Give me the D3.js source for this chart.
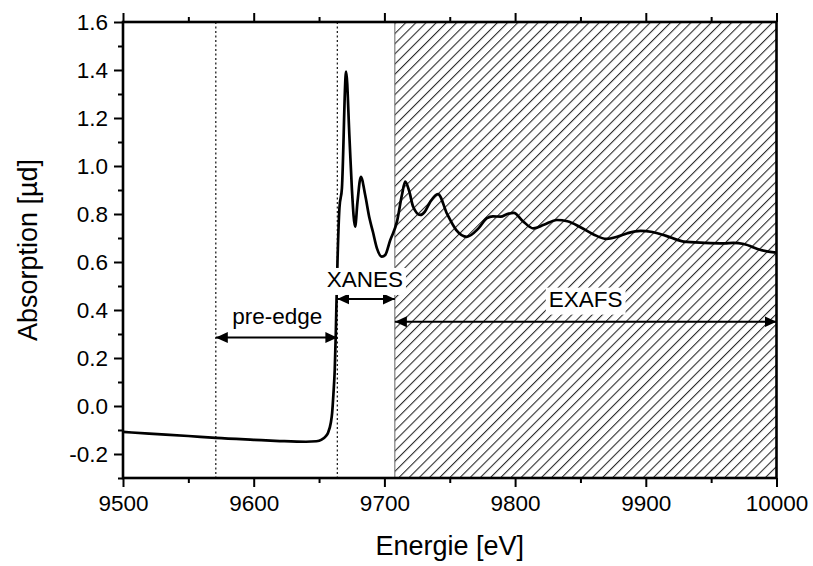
<!DOCTYPE html>
<html>
<head>
<meta charset="utf-8">
<script src="https://cdn.jsdelivr.net/npm/d3@7"></script>
<style>
  html, body { margin: 0; padding: 0; background: #fff; }
  svg { display: block; font-family: "Liberation Sans", Arial, sans-serif; }
</style>
</head>
<body>
<svg id="chart" width="813" height="566"></svg>
<script>
// ---- data ----
const energy = [9500, 9520, 9550, 9571, 9600, 9620, 9640, 9648, 9652, 9655, 9657, 9659, 9660, 9661, 9662, 9662.8, 9663.5, 9664.1,
  9665.6, 9667.5, 9670.7, 9673.3, 9675.1, 9677.6, 9679.4, 9682, 9685.3, 9688.6, 9691.2, 9694.3, 9698.1, 9700.6, 9704.4,
  9709.6, 9713.4, 9715.9, 9719, 9722, 9727.4, 9731, 9735, 9741, 9748, 9755, 9763, 9772, 9778.5, 9783, 9789, 9794, 9799,
  9806, 9814, 9822, 9832, 9840, 9850, 9860, 9870, 9878, 9886, 9896, 9905, 9915, 9929, 9945, 9960, 9967, 9975, 9988, 10000];
const absorption = [-0.108, -0.115, -0.125, -0.133, -0.141, -0.146, -0.149, -0.147, -0.14, -0.127, -0.11, -0.07, -0.03, 0.05, 0.15, 0.3, 0.47, 0.6,
  0.825, 0.908, 1.393, 1.115, 0.907, 0.747, 0.85, 0.955, 0.879, 0.782, 0.726, 0.657, 0.622, 0.629, 0.69,
  0.768, 0.879, 0.935, 0.895, 0.83, 0.796, 0.81, 0.85, 0.883, 0.80, 0.733, 0.705, 0.74, 0.783, 0.79, 0.789, 0.80, 0.805,
  0.77, 0.74, 0.755, 0.775, 0.77, 0.745, 0.715, 0.696, 0.705, 0.72, 0.73, 0.725, 0.71, 0.685, 0.68, 0.678, 0.68, 0.675, 0.65, 0.639];

const xMajorTicks = [9500, 9600, 9700, 9800, 9900, 10000];
const xMinorTicks = [9550, 9650, 9750, 9850, 9950];
const yMajorTicks = [-0.2, 0.0, 0.2, 0.4, 0.6, 0.8, 1.0, 1.2, 1.4, 1.6];
const yMinorTicks = [-0.3, -0.1, 0.1, 0.3, 0.5, 0.7, 0.9, 1.1, 1.3, 1.5];

const dottedLines = [9571, 9664];
const exafsStart = 9708;
const regionNames = ["pre-edge", "XANES", "EXAFS"];
const regionFrom = [9571, 9664, 9708];
const regionTo = [9664, 9708, 10000];
const regionArrowY = [0.285, 0.446, 0.351];
const regionLabelX = [9618, 9685, 9854];
const regionLabelY = [0.342, 0.496, 0.414];
const regionLabelBox = [false, true, true];

const xTitle = "Energie [eV]";
const yTitle = "Absorption [µd]";

// ---- layout ----
const svg = d3.select("#chart");
const L = 123, R = 776.5, T = 22, B = 478;
const x = d3.scaleLinear().domain([9500, 10000]).range([L, R]);
const y = d3.scaleLinear().domain([-0.3, 1.6]).range([B, T]);

const defs = svg.append("defs");
const hs = 7.2;
const pat = defs.append("pattern")
  .attr("id", "hatch").attr("patternUnits", "userSpaceOnUse")
  .attr("width", hs).attr("height", hs)
  .attr("patternTransform", "rotate(45)");
pat.append("line").attr("x1", 0.6).attr("y1", 0).attr("x2", 0.6).attr("y2", hs)
  .attr("stroke", "#000").attr("stroke-width", 0.9);

defs.append("marker").attr("id", "arrow")
  .attr("markerUnits", "userSpaceOnUse")
  .attr("viewBox", "0 0 12 12").attr("refX", 12).attr("refY", 6)
  .attr("markerWidth", 12).attr("markerHeight", 12)
  .attr("orient", "auto-start-reverse")
  .append("path").attr("d", "M0,0.5 L12,6 L0,11.5 Z").attr("fill", "#000");

// hatched EXAFS region
svg.append("rect")
  .attr("x", x(exafsStart)).attr("y", T)
  .attr("width", R - x(exafsStart)).attr("height", B - T)
  .attr("fill", "url(#hatch)");
svg.append("line")
  .attr("x1", x(exafsStart)).attr("x2", x(exafsStart)).attr("y1", T).attr("y2", B)
  .attr("stroke", "#666").attr("stroke-width", 1);

// dotted lines
svg.selectAll(".dotl").data(dottedLines).join("line")
  .attr("x1", d => x(d)).attr("x2", d => x(d)).attr("y1", T).attr("y2", B)
  .attr("stroke", "#222").attr("stroke-width", 1.3).attr("stroke-dasharray", "2,2.5");

// spectrum
const pts = energy.map((e, i) => [e, absorption[i]]);
svg.append("path").datum(pts)
  .attr("d", d3.line().x(d => x(d[0])).y(d => y(d[1])).curve(d3.curveMonotoneX))
  .attr("fill", "none").attr("stroke", "#000").attr("stroke-width", 2.7).attr("stroke-linejoin", "round");

// arrows
regionNames.forEach((name, i) => {
  svg.append("line")
    .attr("x1", x(regionFrom[i])).attr("x2", x(regionTo[i]))
    .attr("y1", y(regionArrowY[i])).attr("y2", y(regionArrowY[i]))
    .attr("stroke", "#000").attr("stroke-width", 2)
    .attr("marker-start", "url(#arrow)").attr("marker-end", "url(#arrow)");
});

// labels
regionNames.forEach((name, i) => {
  const t = svg.append("text")
    .attr("x", x(regionLabelX[i])).attr("y", y(regionLabelY[i]))
    .attr("text-anchor", "middle").attr("font-size", 22.5).attr("fill", "#000")
    .text(name);
  if (regionLabelBox[i]) {
    const bb = t.node().getBBox();
    svg.insert("rect", () => t.node())
      .attr("x", bb.x - 3).attr("y", bb.y + 1)
      .attr("width", bb.width + 6).attr("height", bb.height + 2)
      .attr("fill", "#fff");
  }
});

// axes
const fs = 22.5;
function styleAxis(g) {
  g.select(".domain").remove();
  g.selectAll(".tick line").attr("stroke", "#000").attr("stroke-width", 2);
  g.selectAll(".tick text").attr("font-size", fs).attr("fill", "#000")
    .attr("font-family", "\"Liberation Sans\", Arial, sans-serif");
}
svg.append("g").attr("transform", `translate(0,${B})`)
  .call(d3.axisBottom(x).tickValues(xMajorTicks).tickSize(9).tickPadding(8).tickFormat(d3.format("d")))
  .call(styleAxis);
svg.append("g").attr("transform", `translate(0,${B})`)
  .call(d3.axisBottom(x).tickValues(xMinorTicks).tickSize(5).tickFormat(""))
  .call(styleAxis);
svg.append("g").attr("transform", `translate(0,${T})`)
  .call(d3.axisTop(x).tickValues(xMajorTicks).tickSize(9).tickFormat(""))
  .call(styleAxis);
svg.append("g").attr("transform", `translate(0,${T})`)
  .call(d3.axisTop(x).tickValues(xMinorTicks).tickSize(5).tickFormat(""))
  .call(styleAxis);
svg.append("g").attr("transform", `translate(${L},0)`)
  .call(d3.axisLeft(y).tickValues(yMajorTicks).tickSize(9).tickPadding(6).tickFormat(d3.format(".1f")))
  .call(styleAxis);
svg.append("g").attr("transform", `translate(${L},0)`)
  .call(d3.axisLeft(y).tickValues(yMinorTicks).tickSize(5).tickFormat(""))
  .call(styleAxis);
svg.selectAll(".tick text").text(function() { return this.textContent.replace("−", "-"); });

// frame
svg.append("rect").attr("x", L).attr("y", T).attr("width", R - L).attr("height", B - T)
  .attr("fill", "none").attr("stroke", "#000").attr("stroke-width", 2.6);

// titles
svg.append("text").attr("x", (L + R) / 2).attr("y", 555)
  .attr("text-anchor", "middle").attr("font-size", 27).text(xTitle);
svg.append("text").attr("transform", `translate(37,${(T + B) / 2}) rotate(-90)`)
  .attr("text-anchor", "middle").attr("font-size", 27).text(yTitle);
</script>
</body>
</html>
